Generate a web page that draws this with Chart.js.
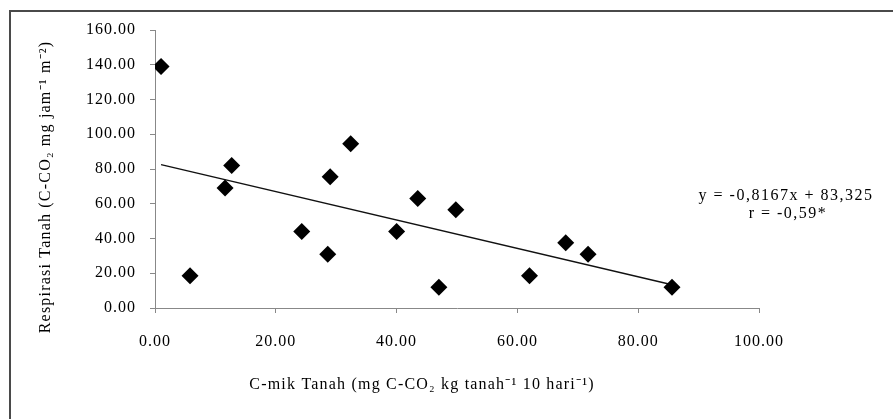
<!DOCTYPE html>
<html>
<head>
<meta charset="utf-8">
<script src="https://cdn.jsdelivr.net/npm/chart.js@4"></script>
<style>
  html, body { margin: 0; padding: 0; background: #fff; }
  #wrap { position: relative; width: 893px; height: 419px; }
  #frame { position: absolute; left: 9px; top: 10px; width: 900px; height: 420px;
           border-left: 2px solid #4a4a4a; border-top: 2px solid #4a4a4a; }
  canvas { position: absolute; left: 0; top: 0; }
</style>
</head>
<body>
<div id="wrap">
  <div id="frame"></div>
  <canvas id="c" width="893" height="419"></canvas>
</div>
<script>
// C-mik Tanah (x) values
const cmikTanah = [1.0, 5.8, 11.6, 12.7, 24.3, 28.6, 29.0, 32.4, 40.0, 43.5, 47.0, 49.8, 62.0, 68.0, 71.7, 85.6];
// Respirasi Tanah (y) values
const respirasiTanah = [139.0, 18.5, 69.0, 82.0, 44.0, 31.0, 75.5, 94.5, 44.0, 63.0, 12.0, 56.5, 18.5, 37.5, 31.0, 12.0];
// Regression from the chart
const slope = -0.8167;
const intercept = 83.325;
const equationLines = ['y = -0,8167x + 83,325', 'r = -0,59*'];
const xTicks = [0, 20, 40, 60, 80, 100];
const yTicks = [0, 20, 40, 60, 80, 100, 120, 140, 160];
const xTitle = 'C-mik Tanah (mg C-CO\u2082 kg tanah\u207B\u00B9 10 hari\u207B\u00B9)';
const yTitle = 'Respirasi Tanah (C-CO\u2082 mg jam\u207B\u00B9 m\u207B\u00B2)';

const points = cmikTanah.map((x, i) => ({ x: x, y: respirasiTanah[i] }));
const xMin = Math.min(...cmikTanah), xMax = Math.max(...cmikTanah);
const trend = [xMin, xMax].map(x => ({ x: x, y: slope * x + intercept }));

const serif = "'Liberation Serif', 'Times New Roman', serif";

const spacingPlugin = {
  id: 'spacing',
  beforeDraw(chart) { chart.ctx.letterSpacing = '1px'; }
};

const textPlugin = {
  id: 'texts',
  afterDraw(chart) {
    const ctx = chart.ctx;
    ctx.save();
    ctx.fillStyle = '#000';
    ctx.textAlign = 'center';
    ctx.textBaseline = 'middle';
    // equation
    ctx.letterSpacing = '1.5px';
    ctx.font = '16px ' + serif;
    ctx.fillText(equationLines[0], 786, 196);
    ctx.fillText(equationLines[1], 788, 214);
    // axis titles
    ctx.letterSpacing = '1.2px';
    ctx.font = '16px ' + serif;
    ctx.fillText(xTitle, 422, 385);
    ctx.translate(46, 187);
    ctx.rotate(-Math.PI / 2);
    ctx.fillText(yTitle, 0, 0);
    ctx.restore();
  }
};

new Chart(document.getElementById('c'), {
  type: 'scatter',
  data: {
    datasets: [
      {
        data: points,
        pointStyle: 'rectRot',
        pointRadius: 8.5,
        pointHoverRadius: 8.5,
        backgroundColor: '#000',
        borderColor: '#000',
        borderWidth: 0
      },
      {
        type: 'line',
        data: trend,
        borderColor: '#111',
        borderWidth: 1.5,
        pointRadius: 0,
        fill: false
      }
    ]
  },
  options: {
    responsive: false,
    animation: false,
    events: [],
    layout: { padding: { left: 30, right: 134, top: 30, bottom: 10 } },
    plugins: { legend: { display: false }, tooltip: { enabled: false } },
    scales: {
      x: {
        type: 'linear',
        min: 0, max: 100,
        afterBuildTicks(scale) { scale.ticks = xTicks.map(v => ({ value: v })); },
        afterFit(scale) { scale.height = 419 - 308 - 10; },
        grid: { display: true, drawOnChartArea: false, drawTicks: true, tickLength: 5, color: '#888' },
        border: { display: true, color: '#888', width: 1 },
        ticks: {
          padding: 19,
          color: '#000',
          font: { family: serif, size: 16 },
          callback: v => Number(v).toFixed(2)
        }
      },
      y: {
        type: 'linear',
        min: 0, max: 160,
        afterBuildTicks(scale) { scale.ticks = yTicks.map(v => ({ value: v })); },
        afterFit(scale) { scale.width = 155 - 30; },
        grid: { display: true, drawOnChartArea: false, drawTicks: true, tickLength: 5, color: '#888' },
        border: { display: true, color: '#888', width: 1 },
        ticks: {
          padding: 14,
          color: '#000',
          font: { family: serif, size: 16 },
          callback: v => Number(v).toFixed(2)
        }
      }
    }
  },
  plugins: [spacingPlugin, textPlugin]
});
</script>
</body>
</html>
